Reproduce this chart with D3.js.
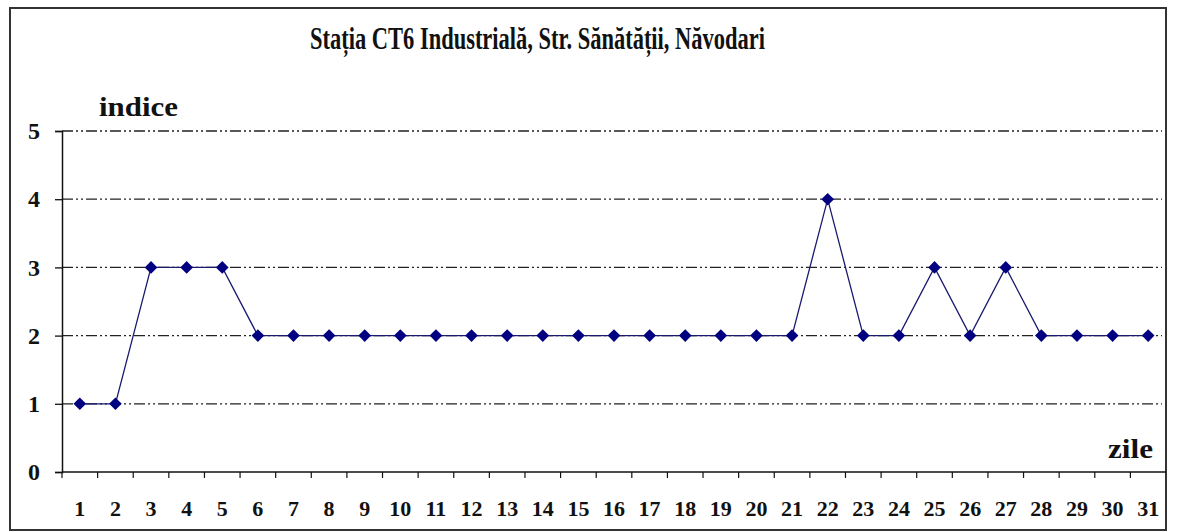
<!DOCTYPE html>
<html>
<head>
<meta charset="utf-8">
<style>
  body { margin: 0; background: #fff; }
  svg { display: block; }
  text { font-family: "Liberation Serif", "Times New Roman", serif; font-weight: bold; fill: #111; }
</style>
</head>
<body>
<div class="chart"></div>
<script src="https://d3js.org/d3.v7.min.js"></script>
<script>
// data
const days = d3.range(1, 32);
const indice = [1,1,3,3,3,2,2,2,2,2,2,2,2,2,2,2,2,2,2,2,2,4,2,2,3,2,3,2,2,2,2];
const yTicks = [0,1,2,3,4,5];
const title = "Stația CT6 Industrială, Str. Sănătății, Năvodari";

const width = 1182, height = 531;
const svg = d3.select(".chart").append("svg")
  .attr("width", width).attr("height", height);

// outer frame
svg.append("rect")
  .attr("x", 10).attr("y", 8).attr("width", 1156).attr("height", 522)
  .attr("fill", "white").attr("stroke", "#333").attr("stroke-width", 2);

const x = d3.scaleBand().domain(days).range([62, 1166]);
const y = d3.scaleLinear().domain([0, 5]).range([472, 131]);

// grid lines, dash-dot-dot
svg.append("g")
  .selectAll("line")
  .data(yTicks.filter(d => d > 0))
  .enter().append("line")
    .attr("x1", 62).attr("x2", 1162)
    .attr("y1", d => y(d)).attr("y2", d => y(d))
    .attr("stroke", "#222").attr("stroke-width", 1.3)
    .attr("stroke-dasharray", "11,3,2,3,2,3");

// y axis
const yAxis = svg.append("g")
  .attr("transform", "translate(62,0)")
  .call(d3.axisLeft(y).tickValues(yTicks).tickSize(7).tickPadding(15).tickFormat(d3.format("d")));
yAxis.attr("font-size", null).attr("font-family", null);
yAxis.select(".domain").attr("stroke", "#111").attr("stroke-width", 1.5);
yAxis.selectAll(".tick line").attr("stroke", "#111").attr("stroke-width", 1.3);
yAxis.selectAll("text")
  .style("font-size", "24px").attr("fill", "#111");

// x axis: ticks sit on the band edges
const xAxis = svg.append("g").attr("transform", "translate(0," + y(0) + ")");
xAxis.append("line")
  .attr("x1", 62).attr("x2", 1166)
  .attr("stroke", "#111").attr("stroke-width", 1.5);
xAxis.selectAll(".edge")
  .data(days)
  .enter().append("line")
    .attr("x1", d => x(d)).attr("x2", d => x(d))
    .attr("y1", 0).attr("y2", 6)
    .attr("stroke", "#111").attr("stroke-width", 1.2);
xAxis.selectAll(".lab")
  .data(days)
  .enter().append("text")
    .attr("x", d => x(d) + x.bandwidth() / 2)
    .attr("y", 44)
    .attr("text-anchor", "middle")
    .style("font-size", "22px")
    .text(d => d);

// series
const cx = d => x(d) + x.bandwidth() / 2;
svg.append("path")
  .datum(days)
  .attr("fill", "none")
  .attr("stroke", "#1a1a6e").attr("stroke-width", 1.3)
  .attr("d", d3.line().x(d => cx(d)).y((d, i) => y(indice[i])));

svg.append("g")
  .selectAll("path")
  .data(days)
  .enter().append("path")
    .attr("d", d3.symbol().type(d3.symbolSquare).size(80))
    .attr("transform", (d, i) => "translate(" + cx(d) + "," + y(indice[i]) + ") rotate(45)")
    .attr("fill", "#000080");

// titles
svg.append("text")
  .attr("x", 310).attr("y", 49)
  .attr("textLength", 455).attr("lengthAdjust", "spacingAndGlyphs")
  .style("font-size", "32px")
  .text(title);

svg.append("text")
  .attr("x", 99).attr("y", 116)
  .attr("textLength", 79).attr("lengthAdjust", "spacingAndGlyphs")
  .style("font-size", "27px")
  .text("indice");

svg.append("text")
  .attr("x", 1108).attr("y", 458)
  .attr("textLength", 45).attr("lengthAdjust", "spacingAndGlyphs")
  .style("font-size", "27px")
  .text("zile");
</script>
</body>
</html>
